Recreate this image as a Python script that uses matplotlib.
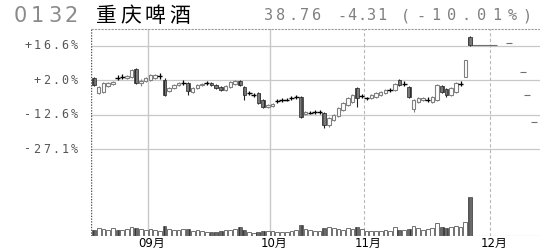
import matplotlib
matplotlib.use('Agg')
import matplotlib.pyplot as plt

W, H = 540, 252

# daily candles, % against the base price
opens = [3.0, -3.3, -2.9, -0.4, 0.5, 3.2, 3.6, 3.0, 3.4, 6.8,
         0.9, 1.7, 2.2, 3.0, 3.8, 2.2, -2.5, -1.2, 0.1, 0.9,
         0.9, -2.9, -1.2, 0.1, 0.9, 0.9, 0.1, -0.8, -2.1, -0.8,
         0.5, 1.7, -0.8, -3.3, -4.2, -3.3, -6.3, -9.3, -8.8, -6.7,
         -6.3, -6.3, -5.5, -5.0, -5.0, -12.3, -11.8, -11.4, -11.4, -11.8,
         -16.9, -14.8, -13.1, -10.6, -8.4, -7.2, -1.2, -4.6, -5.5, -5.5,
         -5.0, -4.2, -3.3, -2.1, -2.1, 2.2, 0.5, -0.8, -10.1, -7.2,
         -6.3, -6.3, -7.2, -6.3, -0.4, -1.6, -4.2, -2.9, 0.5, 3.4,
         20.4]
highs = [3.4, -0.4, 1.3, 1.3, 1.7, 4.3, 4.7, 4.3, 6.8, 7.3,
         2.6, 3.4, 4.7, 4.7, 5.1, 3.0, -0.8, 0.5, 1.3, 2.2,
         1.3, -0.8, 0.5, 0.9, 1.7, 1.3, 0.5, -0.4, 0.1, 1.7,
         2.2, 2.2, -0.4, -2.5, -3.3, -2.9, -5.9, -8.0, -7.6, -5.9,
         -5.5, -5.5, -4.6, -4.2, -4.6, -11.0, -11.0, -10.6, -10.6, -11.4,
         -13.5, -12.3, -9.3, -7.2, -5.0, -3.8, -0.8, -3.8, -5.0, -3.8,
         -2.9, -2.5, -1.6, -1.2, 0.9, 2.6, 1.7, -0.4, -5.9, -5.0,
         -5.0, -5.0, -4.6, 0.5, 0.1, -1.2, -0.8, 1.3, 1.7, 10.7,
         21.0]
lows = [-0.4, -3.8, -3.3, -0.8, 0.1, 2.2, 2.6, 2.6, 3.0, 0.5,
        -0.4, 1.3, 1.7, 2.6, 2.6, -4.6, -2.9, -1.6, -0.4, 0.1,
        -4.2, -3.3, -1.6, -0.4, 0.1, -0.4, -1.6, -2.5, -2.5, -1.2,
        0.1, -0.4, -6.3, -4.2, -5.0, -8.0, -9.7, -9.7, -9.3, -7.6,
        -7.2, -6.7, -6.3, -5.9, -13.9, -12.7, -12.3, -12.3, -12.3, -18.2,
        -17.8, -15.2, -13.5, -11.0, -8.8, -7.6, -9.3, -5.5, -6.3, -5.9,
        -5.5, -4.6, -3.8, -2.9, -2.5, -0.4, -0.4, -5.5, -11.4, -7.6,
        -6.7, -7.2, -7.6, -6.7, -3.3, -5.0, -4.6, -3.3, -0.4, 3.4,
        16.6]
closes = [0.1, -0.8, 0.9, 0.9, 1.3, 3.0, 3.6, 3.8, 6.4, 0.9,
          1.7, 3.0, 4.3, 4.3, 3.8, -4.2, -1.2, 0.1, 0.9, 0.9,
          -2.5, -1.2, 0.1, 0.5, 0.9, 0.1, -1.2, -2.1, -0.4, 1.3,
          1.7, 0.1, -4.2, -3.3, -4.2, -7.6, -9.3, -8.4, -8.0, -6.7,
          -6.3, -6.3, -5.5, -5.0, -13.5, -11.4, -11.8, -11.4, -11.4, -16.9,
          -13.9, -12.7, -9.7, -7.6, -5.5, -4.2, -5.5, -4.6, -5.5, -4.2,
          -3.3, -2.9, -2.1, -2.1, 0.5, 0.1, 0.5, -5.0, -6.3, -5.5,
          -5.5, -6.3, -5.0, 0.1, -2.9, -4.2, -1.2, 0.9, 0.5, 10.7,
          17.0]
volumes = [6, 8, 7, 6, 8, 6, 6, 7, 9, 8,
           7, 6, 7, 6, 5, 10, 7, 6, 6, 7,
           7, 5, 6, 5, 4, 4, 4, 5, 6, 6,
           7, 9, 6, 4, 3, 4, 5, 5, 5, 4,
           4, 4, 5, 6, 11, 7, 6, 5, 5, 8,
           9, 8, 7, 6, 8, 7, 9, 7, 5, 5,
           5, 5, 6, 5, 9, 6, 6, 7, 10, 8,
           6, 7, 8, 13, 9, 8, 9, 10, 9, 14,
           39]

# flat line after the last candle, then one-price limit-down days
flat_start, flat_end, flat_level = 80.4, 85.7, 17.0
dash_days = [88.3, 91.3, 92.1, 93.6]
dash_levels = [17.9, 5.6, -4.2, -15.6]

y_ticks = [16.6, 2.0, -12.6, -27.1]
y_labels = ['+16.6%', '+2.0%', '-12.6%', '-27.1%']
month_days = [11.5, 37.5, 57.5, 84.3]
month_labels = ['09月', '10月', '11月', '12月']
month_dashed = [False, False, True, True]

title_code = '0132'
title_name = '重庆啤酒'
title_price = '38.76'
title_change = '-4.31'
title_pct = '(-10.01%)'

plt.rcParams['hatch.linewidth'] = 0.7

fig = plt.figure(figsize=(W / 100, H / 100), dpi=100)
rect = [91 / W, (H - 236) / H, (W - 91) / W, (236 - 29) / H]
ax = fig.add_axes(rect)
axv = fig.add_axes(rect, sharex=ax)
axv.patch.set_visible(False)

ax.set_xlim(-0.64, 94.9)
ax.set_ylim(-64.0, 23.8)
axv.set_ylim(0, 207)

for a in (ax, axv):
    a.set_xticks([])
    a.set_yticks([])
    for s in a.spines.values():
        s.set_visible(False)

# frame
ax.axvline(-0.64, color='#555555', lw=1.0, ls=(0, (1, 1)))
ax.axhline(23.8, color='#999999', lw=0.8, ls=(0, (2, 1)), clip_on=False)
axv.axhline(0, color='#b0b0b0', lw=0.8)

for t in y_ticks:
    ax.axhline(t, color='#c8c8c8', lw=0.9, zorder=1)
for d, dashed in zip(month_days, month_dashed):
    if dashed:
        ax.axvline(d, color='#b8b8b8', lw=0.8, ls=(0, (3, 2)), zorder=1)
    else:
        ax.axvline(d, color='#c8c8c8', lw=1.0, zorder=1)

# candles: cross when open ~ close, hollow when up, hatched dark when down
for i, (o, h, l, c) in enumerate(zip(opens, highs, lows, closes)):
    if abs(c - o) < 0.3:
        ax.vlines(i, l, h, color='black', lw=0.9, zorder=3)
        ax.hlines(c, i - 0.55, i + 0.55, color='black', lw=1.0, zorder=3)
    elif c > o:
        ax.vlines(i, l, h, color='#808080', lw=0.8, zorder=2)
        ax.bar(i, c - o, bottom=o, width=0.75, facecolor='white',
               edgecolor='#808080', lw=0.8, zorder=3)
    else:
        ax.vlines(i, l, h, color='#202020', lw=0.8, zorder=2)
        ax.bar(i, o - c, bottom=c, width=0.8, facecolor='#7a7a7a',
               edgecolor='#252525', hatch='||||', lw=0.5, zorder=3)

ax.hlines(flat_level, flat_start, flat_end, color='#707070', lw=0.8, zorder=2)
for d, lv in zip(dash_days, dash_levels):
    ax.hlines(lv, d - 0.7, d + 0.7, color='#707070', lw=0.8, zorder=2)

# volume
for i, (o, c, v) in enumerate(zip(opens, closes, volumes)):
    if c >= o:
        axv.bar(i, v, width=0.8, facecolor='white', edgecolor='#707070', lw=0.7)
    else:
        axv.bar(i, v, width=0.85, facecolor='#6a6a6a', edgecolor='#303030',
                hatch='||||', lw=0.4)


def px(x, y):
    return x / W, 1 - y / H


def spaced(x0, y, text, step, **kw):
    for k, ch in enumerate(text):
        fig.text(*px(x0 + (k + 0.5) * step, y), ch, ha='center', va='center', **kw)


# header
spaced(12, 16, title_code, 17, fontsize=15, color='#8a8a8a', family='DejaVu Sans')
spaced(94, 16, title_name, 24.5, fontsize=15, color='black', family='Noto Sans CJK SC')
spaced(263, 16, title_price, 12, fontsize=11, color='#808080', family='DejaVu Sans Mono')
spaced(337, 16, title_change, 10, fontsize=11, color='#808080', family='DejaVu Sans Mono')
spaced(398, 16, title_pct, 15.2, fontsize=11, color='#808080', family='DejaVu Sans Mono')

# y labels, right aligned at x=79
ytrans = ax.transData
for t, lab in zip(y_ticks, y_labels):
    yy = H - ytrans.transform((0, t))[1]
    spaced(79 - 9.3 * len(lab), yy, lab, 9.3, fontsize=8.5, color='#555555',
           family='DejaVu Sans Mono')

for d, lab in zip(month_days, month_labels):
    xx = ytrans.transform((d, 0))[0]
    fig.text(*px(xx + 4, 243), lab, ha='center', va='center', fontsize=8.5,
             family=['DejaVu Sans', 'Noto Sans CJK SC'], color='black')

fig.savefig('out.png', dpi=100)
